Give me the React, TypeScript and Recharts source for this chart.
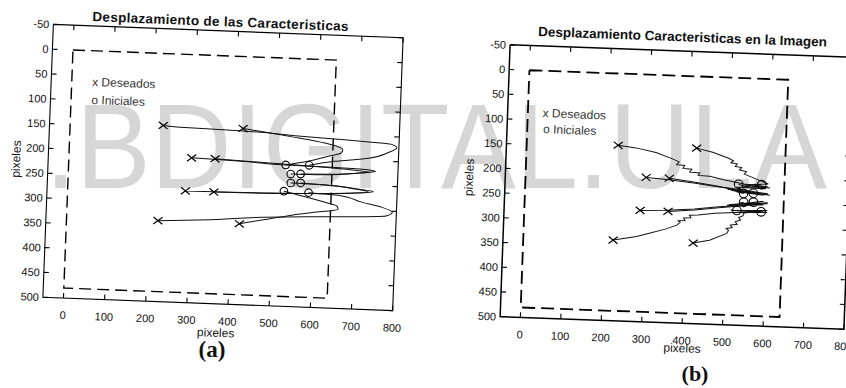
import React from 'react';
import { ScatterChart, Scatter, XAxis, YAxis } from 'recharts';

// ---- axes ----
const X_TICKS = [0, 100, 200, 300, 400, 500, 600, 700, 800];
const Y_TICKS = [-50, 0, 50, 100, 150, 200, 250, 300, 350, 400, 450, 500];
const X_DOMAIN: [number, number] = [-50, 800];
const Y_DOMAIN: [number, number] = [-50, 500];
const BOX_X = [-50, 800, 800, -50, -50];
const BOX_Y = [-50, -50, 500, 500, -50];

// ---- image frame (dashed) ----
const IMAGE_X = [0, 640, 640, 0, 0];
const IMAGE_Y = [0, 0, 480, 480, 0];

// ---- desired (x) and initial (o) feature positions ----
const DESIRED_X = [226, 420, 298, 355, 286, 355, 222, 420];
const DESIRED_Y = [145, 145, 208, 208, 275, 275, 337, 337];
const INITIAL_X = [527, 584, 540, 564, 541, 565, 525, 585];
const INITIAL_Y = [215, 214, 233, 232, 251, 250, 268, 269];

// ---- (a) trajectories ----
const TRAJ_A1 = [[584, 214], [646, 204], [728, 195], [775, 182], [795, 172], [780, 165], [720, 162], [644, 159], [540, 155], [420, 150], [300, 148], [226, 145]];
const TRAJ_A2 = [[527, 215], [580, 206], [630, 194], [660, 187], [664, 180], [655, 175], [620, 168], [540, 158], [420, 145]];
const TRAJ_A3 = [[540, 233], [620, 232], [700, 226], [745, 221], [720, 218], [640, 216], [527, 215], [420, 211], [298, 208]];
const TRAJ_A4 = [[564, 232], [640, 230], [700, 226], [730, 223], [690, 220], [600, 216], [480, 212], [355, 208]];
const TRAJ_A5 = [[541, 251], [620, 252], [700, 258], [742, 262], [700, 266], [620, 270], [525, 272], [400, 274], [286, 275]];
const TRAJ_A6 = [[565, 250], [640, 253], [710, 259], [730, 263], [680, 267], [580, 271], [450, 274], [355, 275]];
const TRAJ_A7 = [[585, 269], [658, 272], [715, 284], [765, 293], [790, 302], [775, 310], [700, 314], [580, 318], [480, 322], [350, 331], [222, 337]];
const TRAJ_A8 = [[525, 268], [580, 278], [630, 288], [655, 294], [658, 300], [645, 303], [600, 308], [520, 320], [420, 337]];

// ---- (b) trajectories ----
const TRAJ_B1 = [[527, 215], [540, 218], [595, 222], [520, 221], [600, 218], [540, 214], [490, 207], [455, 201], [426, 200], [430, 195], [405, 194], [410, 188], [388, 187], [392, 181], [372, 180], [378, 174], [360, 168], [320, 157], [270, 149], [226, 145]];
const TRAJ_B2 = [[584, 214], [560, 218], [605, 220], [540, 216], [600, 212], [560, 200], [540, 194], [545, 189], [528, 186], [533, 181], [517, 179], [522, 174], [506, 172], [512, 168], [500, 163], [460, 152], [420, 145]];
const TRAJ_B3 = [[540, 233], [520, 230], [590, 235], [500, 226], [600, 232], [540, 228], [480, 222], [420, 216], [355, 211], [298, 208]];
const TRAJ_B4 = [[564, 232], [585, 232], [510, 228], [605, 235], [560, 228], [490, 222], [420, 214], [355, 208]];
const TRAJ_B5 = [[541, 251], [530, 253], [590, 255], [500, 258], [600, 252], [540, 257], [480, 262], [420, 268], [350, 273], [286, 275]];
const TRAJ_B6 = [[565, 250], [590, 248], [505, 257], [600, 250], [540, 258], [480, 264], [420, 270], [355, 275]];
const TRAJ_B7 = [[525, 268], [585, 269], [510, 268], [600, 270], [520, 272], [471, 275], [430, 280], [408, 281], [412, 286], [394, 287], [398, 292], [381, 293], [386, 296], [378, 302], [350, 311], [313, 320], [280, 328], [222, 337]];
const TRAJ_B8 = [[585, 269], [520, 268], [600, 266], [560, 270], [541, 273], [541, 278], [530, 282], [535, 287], [522, 291], [527, 296], [510, 298], [515, 303], [500, 305], [506, 309], [502, 315], [460, 330], [420, 337]];

const PATHS_A = [TRAJ_A1, TRAJ_A2, TRAJ_A3, TRAJ_A4, TRAJ_A5, TRAJ_A6, TRAJ_A7, TRAJ_A8];
const PATHS_B = [TRAJ_B1, TRAJ_B2, TRAJ_B3, TRAJ_B4, TRAJ_B5, TRAJ_B6, TRAJ_B7, TRAJ_B8];

// ---- texts ----
const TITLE_A = 'Desplazamiento de las Caracteristicas';
const TITLE_B = 'Desplazamiento Caracteristicas en la Imagen';
const AXIS_LABEL = 'pixeles';
const LEGEND = ['x Deseados', 'o Iniciales'];
const WATERMARK = '.BDIGITAL.ULA';

const FONT = '"Liberation Sans", Arial, Helvetica, sans-serif';
const SERIF = '"Liberation Serif", "Times New Roman", serif';

const toPts = (xs: number[], ys: number[]) => xs.map((x, i) => ({ x, y: ys[i] }));
const pairPts = (arr: number[][]) => arr.map(([x, y]) => ({ x, y }));

const NoShape = () => <g />;
const CrossShape = (p: any) => {
  const { cx, cy } = p;
  if (cx == null || cy == null) return <g />;
  return (
    <path
      d={`M${cx - 4.5},${cy - 3.5}L${cx + 4.5},${cy + 3.5}M${cx - 4.5},${cy + 3.5}L${cx + 4.5},${cy - 3.5}`}
      stroke="#000"
      strokeWidth={1.2}
      fill="none"
    />
  );
};
const makeCircle = (r: number) => (p: any) => {
  if (p.cx == null || p.cy == null) return <g />;
  return <circle cx={p.cx} cy={p.cy} r={r} fill="none" stroke="#000" strokeWidth={1.1} />;
};
// inward tick marks drawn at points on the axis box
const makeTickMark = (dx: number, dy: number) => (p: any) => {
  if (p.cx == null || p.cy == null) return <g />;
  return <path d={`M${p.cx},${p.cy}l${dx},${dy}`} stroke="#000" strokeWidth={1.1} fill="none" />;
};
const TickUp = makeTickMark(0, -5);
const TickDown = makeTickMark(0, 5);
const TickRight = makeTickMark(5, 0);
const TickLeft = makeTickMark(-5, 0);

const BottomLabel = (p: any) => (
  <text x={p.x} y={p.y + 21} textAnchor="middle" fontSize={11} fontFamily={FONT} fill="#111">
    {p.payload.value}
  </text>
);
const LeftLabel = (p: any) => (
  <text x={p.x - 4} y={p.y + 4} textAnchor="end" fontSize={11} fontFamily={FONT} fill="#111">
    {p.payload.value}
  </text>
);

type PanelProps = {
  paths: number[][][];
  curve: any;
  width: number;
  margin: { top: number; right: number; bottom: number; left: number };
  axisW: number;
  dash: string;
  dashW: number;
  r: number;
};

function Panel({ paths, curve, width, margin, axisW, dash, dashW, r }: PanelProps) {
  const common = { type: 'number' as const, tickSize: 0, tickMargin: 0, tickLine: false, axisLine: false, interval: 0 as const };
  const circle = makeCircle(r);
  const XID = 'bx';
  const YID = 'ly';
  return (
    <ScatterChart width={width} height={388} margin={margin}>
      <XAxis xAxisId={XID} dataKey="x" orientation="bottom" height={20} domain={X_DOMAIN} ticks={X_TICKS} tick={BottomLabel} {...common} />
      <YAxis yAxisId={YID} dataKey="y" orientation="left" width={40} reversed domain={Y_DOMAIN} ticks={Y_TICKS} tick={LeftLabel} {...common} />
      <Scatter xAxisId={XID} yAxisId={YID} data={toPts(BOX_X, BOX_Y)} line={{ stroke: '#000', strokeWidth: axisW }} lineJointType="linear" shape={NoShape} isAnimationActive={false} />
      <Scatter xAxisId={XID} yAxisId={YID} data={X_TICKS.map((x) => ({ x, y: Y_DOMAIN[1] }))} shape={TickUp} isAnimationActive={false} />
      <Scatter xAxisId={XID} yAxisId={YID} data={X_TICKS.map((x) => ({ x, y: Y_DOMAIN[0] }))} shape={TickDown} isAnimationActive={false} />
      <Scatter xAxisId={XID} yAxisId={YID} data={Y_TICKS.map((y) => ({ x: X_DOMAIN[0], y }))} shape={TickRight} isAnimationActive={false} />
      <Scatter xAxisId={XID} yAxisId={YID} data={Y_TICKS.map((y) => ({ x: X_DOMAIN[1], y }))} shape={TickLeft} isAnimationActive={false} />
      <Scatter
        xAxisId={XID}
        yAxisId={YID}
        data={toPts(IMAGE_X, IMAGE_Y)}
        line={{ stroke: '#000', strokeWidth: dashW, strokeDasharray: dash }}
        lineJointType="linear"
        shape={NoShape}
        isAnimationActive={false}
      />
      {paths.map((p, i) => (
        <Scatter
          key={i}
          xAxisId={XID}
          yAxisId={YID}
          data={pairPts(p)}
          line={{ stroke: '#111', strokeWidth: 1 }}
          lineJointType={curve}
          shape={NoShape}
          isAnimationActive={false}
        />
      ))}
      <Scatter xAxisId={XID} yAxisId={YID} data={toPts(DESIRED_X, DESIRED_Y)} shape={CrossShape} isAnimationActive={false} />
      <Scatter xAxisId={XID} yAxisId={YID} data={toPts(INITIAL_X, INITIAL_Y)} shape={circle} isAnimationActive={false} />
    </ScatterChart>
  );
}

const Centered = ({ cx, cy, size, bold, rot, family, spacing, children }: any) => (
  <div
    style={{
      position: 'absolute',
      left: cx,
      top: cy,
      transform: `translate(-50%, -50%)${rot ? ' rotate(-90deg)' : ''}`,
      fontSize: size,
      fontWeight: bold ? 700 : 400,
      fontFamily: family || FONT,
      letterSpacing: spacing || 0,
      whiteSpace: 'nowrap',
      lineHeight: 1,
      color: '#111',
    }}
  >
    {children}
  </div>
);
const LeftText = ({ x, cy, size, children }: any) => (
  <div
    style={{
      position: 'absolute',
      left: x,
      top: cy,
      transform: 'translateY(-50%)',
      fontSize: size,
      fontFamily: FONT,
      whiteSpace: 'nowrap',
      lineHeight: 1,
      color: '#333',
    }}
  >
    {children}
  </div>
);

export default function App() {
  return (
    <div style={{ position: 'absolute', left: 0, top: 0, width: 846, height: 388, overflow: 'hidden', background: '#fff' }}>
      <svg width={846} height={388} style={{ position: 'absolute', left: 0, top: 0 }}>
        <text transform="translate(45,188) scale(1,1.08)" x={0} y={0} fontSize={112} fontFamily={FONT} fill="#d6d6d6">
          {WATERMARK}
        </text>
      </svg>

      {/* panel (a) */}
      <div style={{ position: 'absolute', left: 0, top: 0, width: 846, height: 388, transform: 'rotate(2.2deg)', transformOrigin: '223px 167.5px' }}>
        <div style={{ position: 'absolute', left: 0, top: 0 }}>
          <Panel paths={PATHS_A} curve="monotoneY" width={420} margin={{ top: 31, right: 22, bottom: 64, left: 8 }} axisW={1.1} dash="12 6" dashW={1.4} r={3.8} />
        </div>
        <Centered cx={215} cy={22} size={13.5} spacing={0.3} bold>{TITLE_A}</Centered>
        <Centered cx={16} cy={167} size={12} rot>{AXIS_LABEL}</Centered>
        <Centered cx={222} cy={333} size={12}>{AXIS_LABEL}</Centered>
        <LeftText x={89} cy={87} size={12}>{LEGEND[0]}</LeftText>
        <LeftText x={89} cy={105} size={12}>{LEGEND[1]}</LeftText>
      </div>

      {/* panel (b) */}
      <div style={{ position: 'absolute', left: 0, top: 0, width: 846, height: 388, transform: 'rotate(2.1deg)', transformOrigin: '677px 187px' }}>
        <div style={{ position: 'absolute', left: 423, top: 0 }}>
          <Panel paths={PATHS_B} curve="linear" width={440} margin={{ top: 51, right: 14, bottom: 45, left: 42 }} axisW={1.5} dash="13 6" dashW={1.8} r={4.3} />
        </div>
        <Centered cx={677} cy={37} size={13.5} bold>{TITLE_B}</Centered>
        <Centered cx={469} cy={185} size={12} rot>{AXIS_LABEL}</Centered>
        <Centered cx={688} cy={348} size={12}>{AXIS_LABEL}</Centered>
        <LeftText x={540} cy={118} size={12}>{LEGEND[0]}</LeftText>
        <LeftText x={541} cy={134} size={12}>{LEGEND[1]}</LeftText>
      </div>

      <Centered cx={212} cy={349} size={23} bold family={SERIF}>(a)</Centered>
      <Centered cx={695} cy={374} size={22} bold family={SERIF}>(b)</Centered>
    </div>
  );
}
